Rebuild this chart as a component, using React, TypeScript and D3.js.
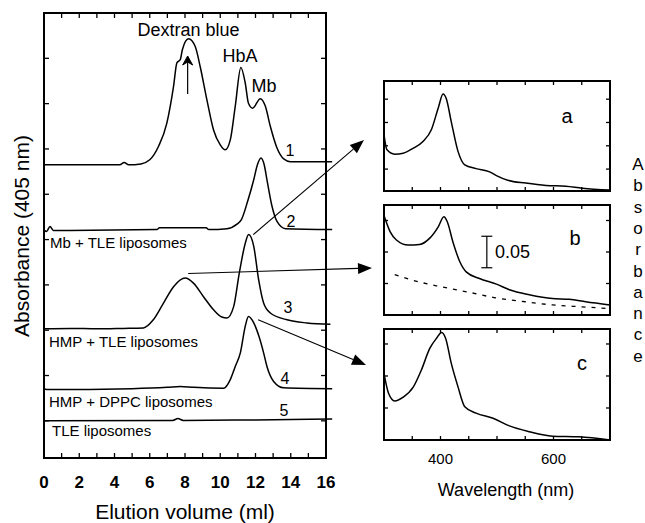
import React from "react";
import * as d3 from "d3";

// elution profiles (ml, absorbance above each trace's baseline)
const trace1Ml = [0, 4.3, 4.55, 4.8, 5.5, 6.0, 6.5, 6.97, 7.35, 7.54, 7.73, 7.85, 8.2, 8.58, 8.86, 9.24, 9.62, 10.0, 10.28, 10.57, 10.85, 11.17, 11.42, 11.6, 11.84, 12.27, 12.56, 12.84, 13.22, 13.6, 13.98, 16.35];
const trace1Abs = [0, 0, 0.05, 0, 0.02, 0.11, 0.41, 0.92, 1.73, 2.25, 2.32, 2.54, 2.78, 2.61, 2.17, 1.44, 0.77, 0.44, 0.33, 0.55, 1.29, 2.15, 1.8, 1.36, 1.25, 1.46, 1.29, 0.85, 0.37, 0.13, 0.07, 0.07];

const trace2Ml = [0, 0.15, 0.34, 0.53, 6.4, 6.55, 9.2, 9.35, 10.38, 10.95, 11.2, 11.55, 11.9, 12.1, 12.31, 12.5, 12.65, 12.94, 13.22, 13.7, 16.35];
const trace2Abs = [-0.02, -0.04, 0.07, -0.02, 0, 0.04, 0.04, 0, 0.02, 0.12, 0.22, 0.62, 1.1, 1.42, 1.58, 1.42, 1.1, 0.51, 0.18, 0.02, 0];

const trace3Ml = [0, 1.5, 3, 4.5, 5.64, 6.2, 6.78, 7.35, 8.01, 8.48, 9.05, 9.62, 10.09, 10.38, 10.76, 11.08, 11.42, 11.61, 11.9, 12.18, 12.46, 12.84, 13.79, 14.92, 16.25];
const trace3Abs = [0, 0.01, 0, 0.01, 0.02, 0.2, 0.57, 0.93, 1.12, 1.01, 0.71, 0.42, 0.26, 0.24, 0.49, 1.23, 1.89, 2.08, 1.82, 1.08, 0.57, 0.35, 0.2, 0.13, 0.1];

const trace4Ml = [0, 0.15, 5, 7.0, 7.73, 8.5, 10.19, 10.57, 10.85, 11.14, 11.42, 11.6, 11.9, 12.2, 12.46, 12.65, 13.03, 13.6, 16.35];
const trace4Abs = [0, -0.02, 0, 0.03, 0.05, 0.03, 0.01, 0.2, 0.49, 0.79, 1.38, 1.59, 1.45, 1.15, 0.79, 0.49, 0.16, 0.02, 0];

const trace5Ml = [0, 7.3, 7.6, 7.9, 12, 16.35];
const trace5Abs = [0, 0.01, 0.05, 0.01, 0.02, 0.04];

const traceOffsets = [6.65, 5.22, 3.03, 1.71, 1.0];
const traceNumbers = ["1", "2", "3", "4", "5"];
const sampleLabels = ["", "Mb + TLE liposomes", "HMP + TLE liposomes", "HMP + DPPC liposomes", "TLE liposomes"];
const elutionTicks = [0, 2, 4, 6, 8, 10, 12, 14, 16];

// spectra (nm, absorbance)
const specAWl = [300, 305, 319, 334, 352, 369, 384, 396, 404.5, 410, 419, 431, 443, 463, 487, 499, 519, 551, 587, 622, 651, 700];
const specAAbs = [0.124, 0.092, 0.082, 0.084, 0.095, 0.109, 0.135, 0.181, 0.211, 0.202, 0.152, 0.088, 0.059, 0.051, 0.044, 0.036, 0.026, 0.02, 0.015, 0.013, 0.009, 0.005];

const specBWl = [300, 311, 322, 343, 363, 381, 396, 406, 412, 422, 434, 446, 469, 499, 522, 557, 598, 628, 657, 700];
const specBAbs = [0.158, 0.132, 0.119, 0.111, 0.112, 0.122, 0.14, 0.156, 0.148, 0.116, 0.085, 0.068, 0.058, 0.049, 0.04, 0.032, 0.026, 0.025, 0.021, 0.016];
const scatterWl = [319, 360, 400, 451, 499, 550, 598, 650, 700];
const scatterAbs = [0.064, 0.053, 0.045, 0.036, 0.027, 0.021, 0.016, 0.013, 0.01];

const specCWl = [300, 308, 319, 334, 352, 366, 381, 393, 402, 409, 419, 431, 443, 463, 493, 522, 557, 598, 645, 700];
const specCAbs = [0.104, 0.073, 0.061, 0.067, 0.083, 0.109, 0.143, 0.159, 0.168, 0.159, 0.12, 0.083, 0.052, 0.042, 0.034, 0.022, 0.013, 0.006, 0.005, 0.0];

const wlTickLabels = [400, 600];
const sideLetters = "Absorbance".split("");

const FONT = "'Liberation Sans', Arial, Helvetica, sans-serif";

const main = { left: 44, right: 326, top: 13, bottom: 458 };
const x = d3.scaleLinear().domain([0, 16]).range([main.left, main.right]);
const y = d3.scaleLinear().domain([0.18, 10]).range([main.bottom, main.top]);
const wl = d3.scaleLinear().domain([300, 700]).range([384, 610]);

const traces = [
  [trace1Ml, trace1Abs],
  [trace2Ml, trace2Abs],
  [trace3Ml, trace3Abs],
  [trace4Ml, trace4Abs],
  [trace5Ml, trace5Abs],
];

const panels = [
  { name: "a", top: 81, bottom: 191, domain: [0.003, 0.239], wls: specAWl, abs: specAAbs, lx: 567, ly: 123 },
  { name: "b", top: 205, bottom: 315, domain: [0, 0.1746], wls: specBWl, abs: specBAbs, lx: 575, ly: 245 },
  { name: "c", top: 329, bottom: 440, domain: [0, 0.1734], wls: specCWl, abs: specCAbs, lx: 582, ly: 370 },
];

function Arrow({ x1, y1, x2, y2 }: { x1: number; y1: number; x2: number; y2: number }) {
  const a = Math.atan2(y2 - y1, x2 - x1);
  const len = 14, hw = 5.5;
  const bx = x2 - len * Math.cos(a), by = y2 - len * Math.sin(a);
  const pts = [
    [x2, y2],
    [bx + hw * Math.sin(a), by - hw * Math.cos(a)],
    [bx - hw * Math.sin(a), by + hw * Math.cos(a)],
  ];
  return (
    <g>
      <line x1={x1} y1={y1} x2={bx} y2={by} stroke="#000" strokeWidth={1.1} />
      <polygon points={pts.map((p) => p.join(",")).join(" ")} fill="#000" />
    </g>
  );
}

export default function App() {
  const line = d3.line<number>().curve(d3.curveMonotoneX);

  const mainTicksX = d3.range(1, 16);
  const mainTicksY = d3.range(1, 10);

  return (
    <svg width={645} height={523} style={{ position: "absolute", left: 0, top: 0, background: "#fff" }} fontFamily={FONT}>
      {/* main panel traces */}
      {traces.map(([ml, ab], i) => {
        const pts = ml.map((m, j) => [x(m), y(traceOffsets[i] + ab[j])] as [number, number]);
        return <path key={i} d={d3.line().curve(d3.curveMonotoneX)(pts) || ""} fill="none" stroke="#000" strokeWidth={1.5} />;
      })}

      {/* frame + ticks */}
      <rect x={main.left} y={main.top} width={main.right - main.left} height={main.bottom - main.top} fill="none" stroke="#000" strokeWidth={2} />
      {mainTicksX.map((t) => (
        <g key={"tx" + t}>
          <line x1={x(t)} x2={x(t)} y1={main.bottom} y2={main.bottom - 5} stroke="#000" strokeWidth={1.3} />
          <line x1={x(t)} x2={x(t)} y1={main.top} y2={main.top + 5} stroke="#000" strokeWidth={1.3} />
        </g>
      ))}
      {mainTicksY.map((t) => (
        <g key={"ty" + t}>
          <line x1={main.left} x2={main.left + 5} y1={y(t)} y2={y(t)} stroke="#000" strokeWidth={1.3} />
          <line x1={main.right} x2={main.right - 5} y1={y(t)} y2={y(t)} stroke="#000" strokeWidth={1.3} />
        </g>
      ))}
      {elutionTicks.map((t) => (
        <text key={"lx" + t} x={x(t)} y={488} fontSize={17} fontWeight="bold" textAnchor="middle">{t}</text>
      ))}
      <text x={185} y={519} fontSize={21} textAnchor="middle">Elution volume (ml)</text>
      <text transform="translate(29,236) rotate(-90)" fontSize={21} textAnchor="middle">Absorbance (405 nm)</text>

      {/* peak annotations */}
      <text x={x(8.2)} y={36} fontSize={18} textAnchor="middle">Dextran blue</text>
      <text x={240} y={62} fontSize={18} textAnchor="middle">HbA</text>
      <text x={264} y={92} fontSize={18} textAnchor="middle">Mb</text>
      <line x1={x(8.15)} x2={x(8.15)} y1={94} y2={62} stroke="#000" strokeWidth={1.2} />
      <path d={`M${x(8.15)},56 L${x(8.15) - 5},65 L${x(8.15)},62 L${x(8.15) + 5},65 Z`} fill="#000" stroke="#000" strokeWidth={1} />

      {traceNumbers.map((n, i) => (
        <text key={"n" + n} x={[290, 291, 288, 285, 284][i]} y={[156, 227, 313, 384, 416][i]} fontSize={16} textAnchor="middle">{n}</text>
      ))}
      {sampleLabels.map((s, i) => s && (
        <text key={"s" + i} x={[0, 50, 49, 49, 52][i]} y={[0, 248, 347, 407, 436][i]} fontSize={15}>{s}</text>
      ))}

      {/* arrows to spectra */}
      <Arrow x1={x(11.87)} y1={y(traceOffsets[2] + 2.08)} x2={364} y2={140} />
      <Arrow x1={x(8.18)} y1={y(traceOffsets[2] + 1.22)} x2={372} y2={268} />
      <Arrow x1={x(12.15)} y1={y(traceOffsets[2] + 0.2)} x2={366} y2={365} />

      {/* spectra panels */}
      {panels.map((p) => {
        const yy = d3.scaleLinear().domain(p.domain).range([p.bottom, p.top]);
        const pts = p.wls.map((w, j) => [wl(w), yy(p.abs[j])] as [number, number]);
        const yt = d3.range(0.05, p.domain[1], 0.05).filter((v) => yy(v) > p.top + 2);
        return (
          <g key={p.name}>
            <path d={d3.line().curve(d3.curveMonotoneX)(pts) || ""} fill="none" stroke="#000" strokeWidth={1.5} />
            {p.name === "b" && (
              <g>
                <path
                  d={d3.line().curve(d3.curveMonotoneX)(scatterWl.map((w, j) => [wl(w), yy(scatterAbs[j])] as [number, number])) || ""}
                  fill="none" stroke="#000" strokeWidth={1.3} strokeDasharray="4 6"
                />
                <line x1={wl(482)} x2={wl(482)} y1={yy(0.125)} y2={yy(0.075)} stroke="#000" strokeWidth={1.2} />
                <line x1={wl(482) - 5.5} x2={wl(482) + 5.5} y1={yy(0.125)} y2={yy(0.125)} stroke="#000" strokeWidth={1.2} />
                <line x1={wl(482) - 5.5} x2={wl(482) + 5.5} y1={yy(0.075)} y2={yy(0.075)} stroke="#000" strokeWidth={1.2} />
                <text x={495} y={258} fontSize={18}>0.05</text>
              </g>
            )}
            <rect x={wl(300)} y={p.top} width={wl(700) - wl(300)} height={p.bottom - p.top} fill="none" stroke="#000" strokeWidth={2} />
            {d3.range(350, 700, 50).map((t) => (
              <g key={"w" + t}>
                <line x1={wl(t)} x2={wl(t)} y1={p.bottom} y2={p.bottom - 4} stroke="#000" strokeWidth={1.3} />
                <line x1={wl(t)} x2={wl(t)} y1={p.top} y2={p.top + 4} stroke="#000" strokeWidth={1.3} />
              </g>
            ))}
            {yt.map((t) => (
              <g key={"a" + t}>
                <line x1={wl(300)} x2={wl(300) + 4} y1={yy(t)} y2={yy(t)} stroke="#000" strokeWidth={1.3} />
                <line x1={wl(700)} x2={wl(700) - 4} y1={yy(t)} y2={yy(t)} stroke="#000" strokeWidth={1.3} />
              </g>
            ))}
            <text x={p.lx} y={p.ly} fontSize={20} textAnchor="middle">{p.name}</text>
          </g>
        );
      })}
      {wlTickLabels.map((t) => (
        <text key={"wl" + t} x={wl(t)} y={464} fontSize={15} textAnchor="middle">{t}</text>
      ))}
      <text x={506} y={496} fontSize={18} textAnchor="middle">Wavelength (nm)</text>
      {sideLetters.map((c, i) => (
        <text key={"c" + i} x={638} y={170 + i * 21.3} fontSize={17} textAnchor="middle">{c}</text>
      ))}
    </svg>
  );
}
